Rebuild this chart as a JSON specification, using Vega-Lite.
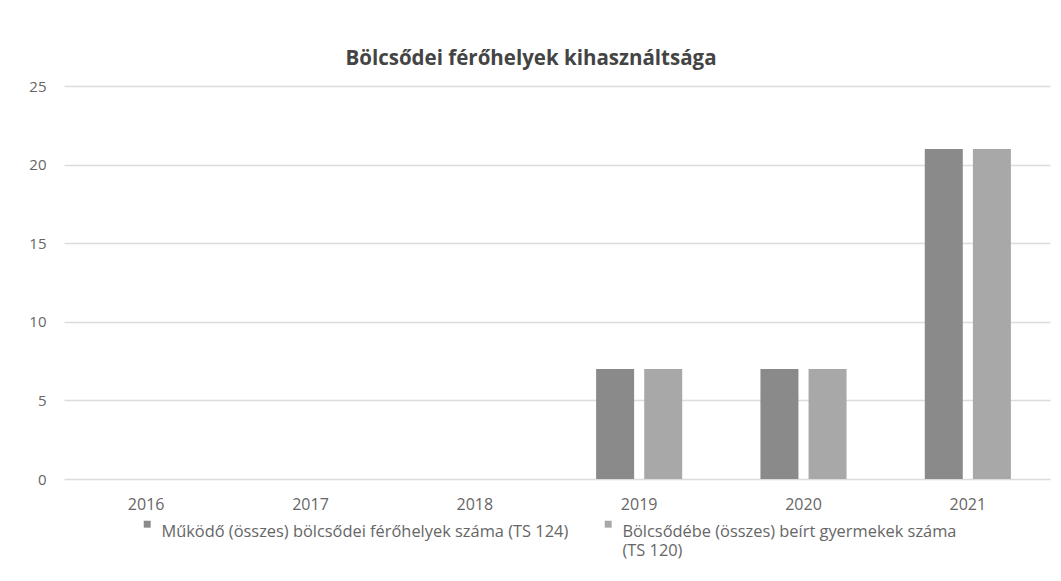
{
  "$schema": "https://vega.github.io/schema/vega-lite/v6.json",
  "width": 1061,
  "height": 581,
  "autosize": {"type": "fit", "contains": "padding"},
  "padding": {"left": 28, "top": 48, "right": 11, "bottom": 69},
  "background": "white",
  "title": {
    "text": "Bölcsődei férőhelyek kihasználtsága",
    "font": "Open Sans",
    "fontSize": 20.5,
    "fontWeight": "bold",
    "color": "#444444",
    "offset": 10,
    "dx": -26
  },
  "data": {
    "values": [
      {"ev": "2016", "sorozat": "Működő (összes) bölcsődei férőhelyek száma (TS 124)", "ertek": 0},
      {"ev": "2016", "sorozat": "Bölcsődébe (összes) beírt gyermekek száma (TS 120)", "ertek": 0},
      {"ev": "2017", "sorozat": "Működő (összes) bölcsődei férőhelyek száma (TS 124)", "ertek": 0},
      {"ev": "2017", "sorozat": "Bölcsődébe (összes) beírt gyermekek száma (TS 120)", "ertek": 0},
      {"ev": "2018", "sorozat": "Működő (összes) bölcsődei férőhelyek száma (TS 124)", "ertek": 0},
      {"ev": "2018", "sorozat": "Bölcsődébe (összes) beírt gyermekek száma (TS 120)", "ertek": 0},
      {"ev": "2019", "sorozat": "Működő (összes) bölcsődei férőhelyek száma (TS 124)", "ertek": 7},
      {"ev": "2019", "sorozat": "Bölcsődébe (összes) beírt gyermekek száma (TS 120)", "ertek": 7},
      {"ev": "2020", "sorozat": "Működő (összes) bölcsődei férőhelyek száma (TS 124)", "ertek": 7},
      {"ev": "2020", "sorozat": "Bölcsődébe (összes) beírt gyermekek száma (TS 120)", "ertek": 7},
      {"ev": "2021", "sorozat": "Működő (összes) bölcsődei férőhelyek száma (TS 124)", "ertek": 21},
      {"ev": "2021", "sorozat": "Bölcsődébe (összes) beírt gyermekek száma (TS 120)", "ertek": 21}
    ]
  },
  "mark": {"type": "bar"},
  "encoding": {
    "x": {
      "field": "ev",
      "type": "nominal",
      "scale": {"paddingInner": 0.476, "paddingOuter": 0.238},
      "axis": {
        "title": null,
        "labelAngle": 0,
        "labelPadding": 17,
        "labelFont": "Open Sans",
        "labelFontSize": 16,
        "labelColor": "#666666",
        "domain": false,
        "ticks": false
      }
    },
    "xOffset": {
      "field": "sorozat",
      "type": "nominal",
      "sort": ["Működő (összes) bölcsődei férőhelyek száma (TS 124)", "Bölcsődébe (összes) beírt gyermekek száma (TS 120)"],
      "scale": {"paddingInner": 0.21, "paddingOuter": 0}
    },
    "y": {
      "field": "ertek",
      "type": "quantitative",
      "scale": {"domain": [0, 25]},
      "axis": {
        "title": null,
        "values": [0, 5, 10, 15, 20, 25],
        "labelFont": "Open Sans",
        "labelFontSize": 15,
        "labelColor": "#666666",
        "labelPadding": 18,
        "domain": false,
        "ticks": false,
        "gridColor": "#dcdcdc",
        "gridWidth": 1.5
      }
    },
    "color": {
      "field": "sorozat",
      "type": "nominal",
      "sort": ["Működő (összes) bölcsődei férőhelyek száma (TS 124)", "Bölcsődébe (összes) beírt gyermekek száma (TS 120)"],
      "scale": {"range": ["#8a8a8a", "#a8a8a8"]},
      "legend": {
        "title": null,
        "orient": "none",
        "legendX": 75,
        "legendY": 430,
        "direction": "horizontal",
        "columns": 2,
        "columnPadding": 31,
        "symbolType": "square",
        "symbolSize": 48,
        "symbolOffset": 0,
        "labelOffset": 6,
        "labelFont": "Open Sans",
        "labelFontSize": 16.4,
        "labelColor": "#666666",
        "labelLimit": 600,
        "labelBaseline": "top",
        "labelExpr": "datum.label == 'Bölcsődébe (összes) beírt gyermekek száma (TS 120)' ? ['Bölcsődébe (összes) beírt gyermekek száma', '(TS 120)'] : [datum.label, '']"
      }
    }
  },
  "config": {"view": {"stroke": null}}
}
